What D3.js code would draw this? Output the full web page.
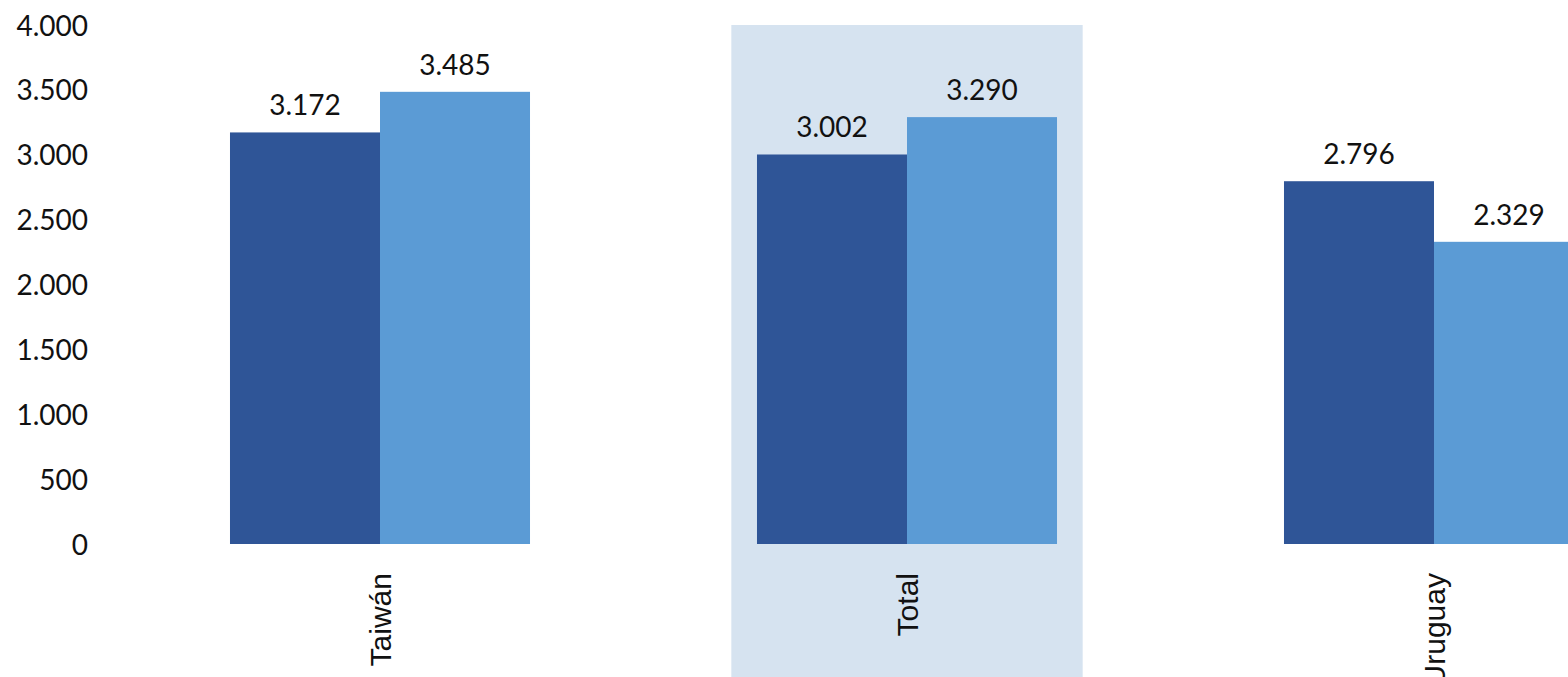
<!DOCTYPE html>
<html>
<head>
<meta charset="utf-8">
<script src="https://cdn.jsdelivr.net/npm/d3@7"></script>
<style>
  html, body { margin: 0; padding: 0; background: #fff; overflow: hidden; }
  svg { display: block; }
</style>
</head>
<body>
<svg id="chart" width="1568" height="677"></svg>
<script>
// ---- data ----
const categories = ["Taiwán", "Total", "Uruguay"];
const seriesNames = ["Serie 1", "Serie 2"];
const series1 = [3172, 3002, 2796];
const series2 = [3485, 3290, 2329];
const yTicks = [0, 500, 1000, 1500, 2000, 2500, 3000, 3500, 4000];
const highlighted = ["Total"];

// ---- styles ----
const colors = ["#2F5597", "#5B9BD5"];
const highlightFill = "#D6E3F0";
const numFont = "Lato, 'Open Sans', sans-serif";
const catFont = "'Liberation Sans', Arial, sans-serif";

const svg = d3.select("#chart");
const W = 1568, H = 677;
const plotTop = 25, plotBottom = 544;

const x = d3.scaleBand()
  .domain(categories)
  .range([116.5, 116.5 + 527 * categories.length])
  .paddingInner(0.4307)
  .paddingOuter(0.4307 / 2);

const x1 = d3.scaleBand()
  .domain(seriesNames)
  .range([0, x.bandwidth()])
  .padding(0);

const y = d3.scaleLinear().domain([0, 4000]).range([plotBottom, plotTop]);

const fmt = v => d3.format(",")(v).replace(/,/g, ".");

// highlight band
svg.append("g").selectAll("rect")
  .data(highlighted)
  .join("rect")
  .attr("x", d => x(d) + x.bandwidth() / 2 - x.step() / 3)
  .attr("width", x.step() * 2 / 3)
  .attr("y", plotTop)
  .attr("height", H - plotTop)
  .attr("fill", highlightFill);

// y axis (labels only)
const yAxis = d3.axisLeft(y)
  .tickValues(yTicks)
  .tickSize(0)
  .tickPadding(0)
  .tickFormat(fmt);

const gy = svg.append("g")
  .attr("transform", "translate(88,0)")
  .call(yAxis);
gy.select(".domain").remove();
gy.selectAll("text")
  .attr("font-family", numFont)
  .attr("font-size", 28)
  .attr("fill", "#111")
  .attr("dy", "0.36em");

// bars
const rows = categories.map((c, i) => ({ cat: c, vals: [series1[i], series2[i]] }));

const groups = svg.append("g").selectAll("g")
  .data(rows)
  .join("g")
  .attr("transform", d => `translate(${x(d.cat)},0)`);

groups.selectAll("rect")
  .data(d => d.vals.map((v, j) => ({ s: seriesNames[j], v, j })))
  .join("rect")
  .attr("x", d => x1(d.s))
  .attr("width", x1.bandwidth())
  .attr("y", d => y(d.v))
  .attr("height", d => y(0) - y(d.v))
  .attr("fill", d => colors[d.j]);

groups.selectAll("text.val")
  .data(d => d.vals.map((v, j) => ({ s: seriesNames[j], v, j })))
  .join("text")
  .attr("class", "val")
  .attr("x", d => x1(d.s) + x1.bandwidth() / 2)
  .attr("y", d => y(d.v) - 17)
  .attr("text-anchor", "middle")
  .attr("font-family", numFont)
  .attr("font-size", 28)
  .attr("fill", "#111")
  .text(d => fmt(d.v));

// x axis category labels (rotated)
const xAxis = d3.axisBottom(x).tickSize(0).tickPadding(0);
const gx = svg.append("g")
  .attr("transform", `translate(0,${plotBottom})`)
  .call(xAxis);
gx.select(".domain").remove();
gx.selectAll("text")
  .attr("font-family", catFont)
  .attr("font-size", 30)
  .attr("fill", "#111")
  .attr("text-anchor", "end")
  .attr("dy", null)
  .attr("y", null)
  .attr("transform", "translate(11,29) rotate(-90)");
</script>
</body>
</html>
